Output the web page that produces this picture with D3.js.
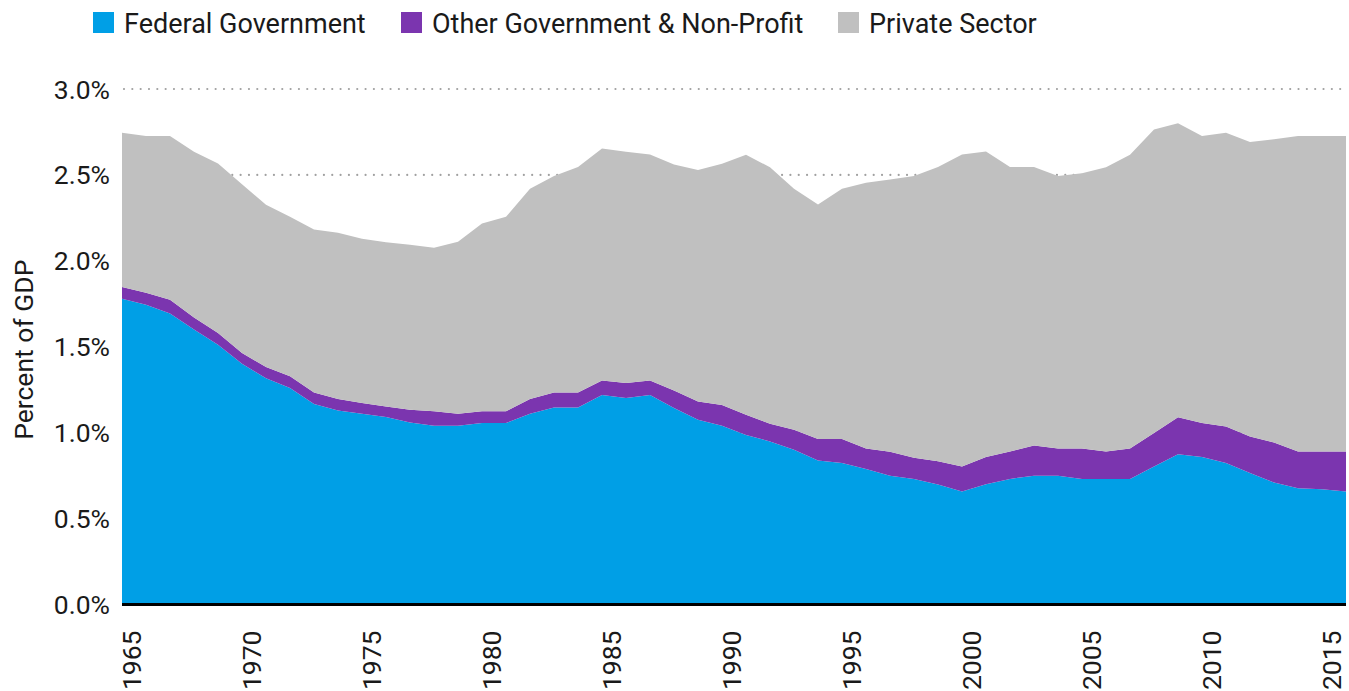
<!DOCTYPE html>
<html>
<head>
<meta charset="utf-8">
<script src="https://cdn.jsdelivr.net/npm/d3@7"></script>
<style>
  body { margin: 0; background: #fff; }
  text { font-family: Roboto, "Noto Sans", sans-serif; }
</style>
</head>
<body>
<div id="my_dataviz"></div>
<script>
// data (percent of GDP)
var years = d3.range(1965, 2017);

var federal = [1.780, 1.745, 1.693, 1.600, 1.512, 1.401, 1.316, 1.260, 1.167, 1.129,
  1.110, 1.091, 1.059, 1.040, 1.040, 1.056, 1.056, 1.110, 1.147, 1.147,
  1.219, 1.202, 1.219, 1.143, 1.075, 1.040, 0.986, 0.949, 0.900, 0.838,
  0.823, 0.788, 0.749, 0.730, 0.698, 0.657, 0.700, 0.731, 0.749, 0.749,
  0.731, 0.731, 0.731, 0.803, 0.875, 0.858, 0.823, 0.765, 0.710, 0.677,
  0.671, 0.657];

var otherGov = [0.068, 0.069, 0.081, 0.070, 0.068, 0.063, 0.066, 0.068, 0.067, 0.067,
  0.062, 0.062, 0.074, 0.084, 0.070, 0.068, 0.068, 0.086, 0.087, 0.087,
  0.085, 0.087, 0.085, 0.103, 0.107, 0.121, 0.118, 0.103, 0.117, 0.125,
  0.140, 0.120, 0.140, 0.124, 0.136, 0.146, 0.158, 0.159, 0.176, 0.159,
  0.177, 0.159, 0.177, 0.195, 0.214, 0.198, 0.213, 0.213, 0.233, 0.213,
  0.219, 0.233];

var privateSector = [0.898, 0.912, 0.952, 0.965, 0.987, 0.981, 0.944, 0.928, 0.948, 0.967,
  0.956, 0.955, 0.960, 0.952, 1.001, 1.093, 1.132, 1.223, 1.259, 1.312,
  1.350, 1.346, 1.315, 1.315, 1.346, 1.404, 1.514, 1.492, 1.402, 1.365,
  1.456, 1.546, 1.585, 1.639, 1.712, 1.816, 1.779, 1.656, 1.621, 1.585,
  1.601, 1.654, 1.710, 1.767, 1.711, 1.670, 1.710, 1.713, 1.764, 1.836,
  1.836, 1.836];

var seriesNames = ["Federal Government", "Other Government & Non-Profit", "Private Sector"];
var seriesKeys = ["federal", "other", "private"];
var colors = ["#009fe6", "#7b35af", "#c0c0c0"];
var yTicks = [0, 0.5, 1.0, 1.5, 2.0, 2.5, 3.0];
var xTicks = [1965, 1970, 1975, 1980, 1985, 1990, 1995, 2000, 2005, 2010, 2015];

// dimensions
var W = 1349, H = 691;
var margin = {top: 89, right: 3, bottom: 86.5, left: 122},
  width = W - margin.left - margin.right,
  height = H - margin.top - margin.bottom;
var fontSize = "26.5px";

var svg = d3.select("#my_dataviz")
  .append("svg")
  .attr("width", W)
  .attr("height", H);

var g = svg.append("g")
  .attr("transform", "translate(" + margin.left + "," + margin.top + ")");

// build rows for the stack
var rows = years.map(function(y, i) {
  return {year: y, federal: federal[i], other: otherGov[i], private: privateSector[i]};
});

var stacked = d3.stack().keys(seriesKeys)(rows);

var x = d3.scaleLinear().domain([1965, 2016]).range([0, width]);
var y = d3.scaleLinear().domain([0, 3]).range([height, 0]);

// dotted gridlines (behind the areas)
g.selectAll(".grid")
  .data(yTicks.filter(function(d) { return d > 0; }))
  .enter().append("line")
  .attr("x1", 2)
  .attr("x2", width)
  .attr("y1", function(d) { return y(d); })
  .attr("y2", function(d) { return y(d); })
  .style("stroke", "#a0a0a0")
  .style("stroke-width", 2.2)
  .style("stroke-linecap", "round")
  .style("stroke-dasharray", "0,8.33");

// areas
var area = d3.area()
  .x(function(d) { return x(d.data.year); })
  .y0(function(d) { return y(d[0]); })
  .y1(function(d) { return y(d[1]); });

g.selectAll(".layer")
  .data(stacked)
  .enter().append("path")
  .attr("d", area)
  .style("fill", function(d, i) { return colors[i]; })
  .style("stroke", "none");

// baseline
g.append("line")
  .attr("x1", 0).attr("x2", width)
  .attr("y1", y(0)).attr("y2", y(0))
  .style("stroke", "#000")
  .style("stroke-width", 3);

// y tick labels
g.selectAll(".ylab")
  .data(yTicks)
  .enter().append("text")
  .attr("x", -12)
  .attr("y", function(d) { return y(d); })
  .attr("dy", "0.36em")
  .style("text-anchor", "end")
  .style("font-size", fontSize)
  .style("fill", "#1a1a1a")
  .text(function(d) { return d.toFixed(1) + "%"; });

// x tick labels, rotated
g.selectAll(".xlab")
  .data(xTicks)
  .enter().append("text")
  .attr("transform", function(d) { return "translate(" + x(d) + "," + (height + 26) + ") rotate(-90)"; })
  .attr("dy", "0.72em")
  .style("text-anchor", "end")
  .style("font-size", fontSize)
  .style("fill", "#1a1a1a")
  .text(function(d) { return d; });

// y axis title
svg.append("text")
  .attr("transform", "translate(33," + (margin.top + height / 2 + 3) + ") rotate(-90)")
  .style("text-anchor", "middle")
  .style("font-size", fontSize)
  .style("fill", "#1a1a1a")
  .text("Percent of GDP");

// legend
var legendX = [93, 401, 838];
var legend = svg.selectAll(".legend")
  .data(seriesNames)
  .enter().append("g")
  .attr("transform", function(d, i) { return "translate(" + legendX[i] + ",12)"; });

legend.append("rect")
  .attr("width", 21).attr("height", 21)
  .style("fill", function(d, i) { return colors[i]; });

legend.append("text")
  .attr("x", 31)
  .attr("y", 20.5)
  .style("font-size", "27px")
  .style("fill", "#1a1a1a")
  .text(function(d) { return d; });
</script>
</body>
</html>
